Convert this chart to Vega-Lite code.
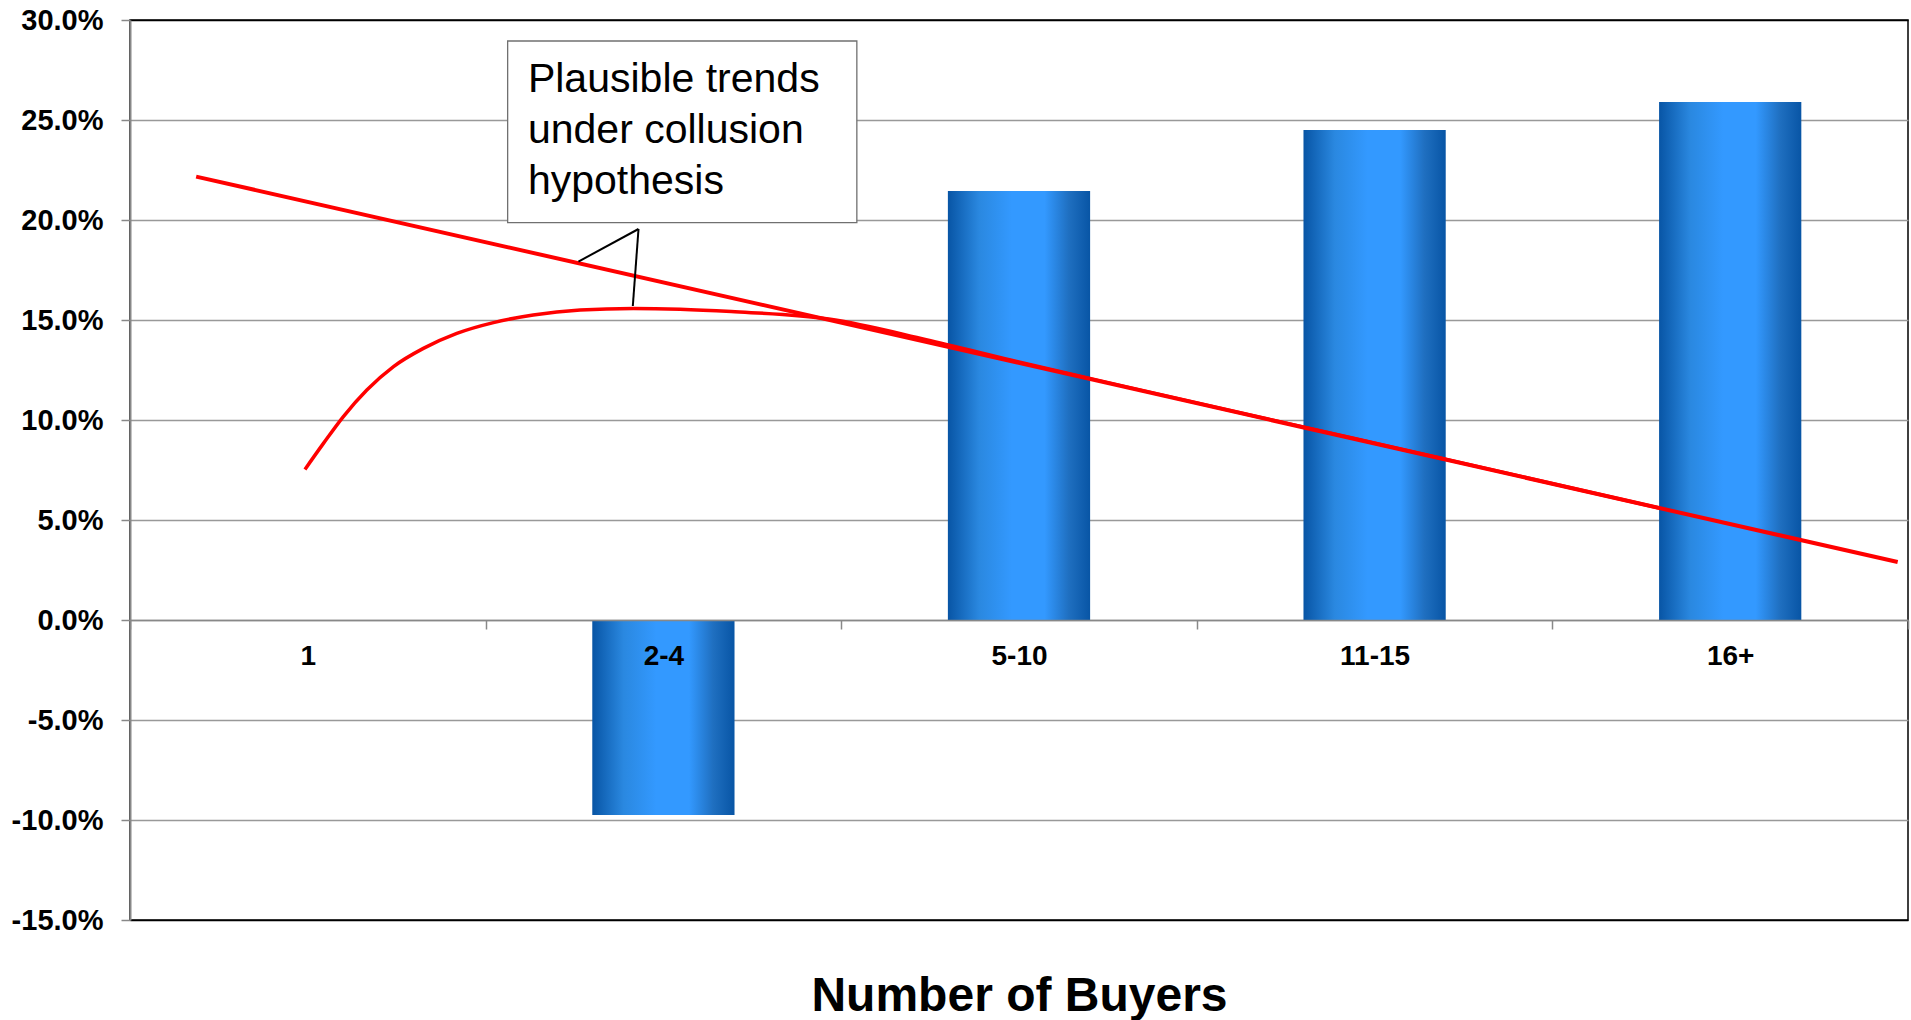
{
  "$schema": "https://vega.github.io/schema/vega-lite/v6.json",
  "width": 1778,
  "height": 900,
  "autosize": "none",
  "padding": {"left": 130, "top": 20, "right": 3, "bottom": 100},
  "background": "#ffffff",
  "config": {
    "view": {"stroke": "#000000", "strokeWidth": 1.5},
    "font": "Liberation Sans"
  },
  "datasets": {
    "bars": [
      {"buyers": "1", "value": 0},
      {"buyers": "2-4", "value": -9.75},
      {"buyers": "5-10", "value": 21.45},
      {"buyers": "11-15", "value": 24.5},
      {"buyers": "16+", "value": 25.9}
    ],
    "straight": [
      {"pos": 0.186, "pct": 22.17},
      {"pos": 4.971, "pct": 2.9}
    ],
    "curve": [
      {"pos": 0.492, "pct": 7.53},
      {"pos": 0.544, "pct": 8.83},
      {"pos": 0.600, "pct": 10.17},
      {"pos": 0.666, "pct": 11.5},
      {"pos": 0.741, "pct": 12.67},
      {"pos": 0.825, "pct": 13.58},
      {"pos": 0.919, "pct": 14.33},
      {"pos": 1.022, "pct": 14.87},
      {"pos": 1.134, "pct": 15.25},
      {"pos": 1.266, "pct": 15.5},
      {"pos": 1.415, "pct": 15.58},
      {"pos": 1.547, "pct": 15.54},
      {"pos": 1.691, "pct": 15.42},
      {"pos": 1.965, "pct": 15.05},
      {"pos": 2.239, "pct": 14.02},
      {"pos": 2.479, "pct": 12.99},
      {"pos": 2.8, "pct": 11.67},
      {"pos": 3.2, "pct": 10.05},
      {"pos": 3.7, "pct": 8.04},
      {"pos": 4.3, "pct": 5.6}
    ],
    "box": [
      {"x1": 1.062, "x2": 2.044, "y1": 28.95, "y2": 19.87}
    ],
    "note": [
      {"pos": 1.119, "pct": 28.0, "t": "Plausible trends\nunder collusion\nhypothesis"}
    ],
    "pointer": [
      {"x1": 1.430, "y1": 19.55, "x2": 1.261, "y2": 17.92},
      {"x1": 1.430, "y1": 19.55, "x2": 1.414, "y2": 15.7}
    ]
  },
  "layer": [
    {
      "data": {"name": "bars"},
      "mark": {
        "type": "bar",
        "width": {"band": 0.4},
        "fill": {
          "gradient": "linear",
          "x1": 0, "x2": 1, "y1": 0, "y2": 0,
          "stops": [
            {"offset": 0, "color": "#0855a5"},
            {"offset": 0.22, "color": "#2a88e0"},
            {"offset": 0.45, "color": "#3399ff"},
            {"offset": 0.68, "color": "#3399ff"},
            {"offset": 0.85, "color": "#1f6fc0"},
            {"offset": 1, "color": "#0855a5"}
          ]
        }
      },
      "encoding": {
        "x": {
          "field": "buyers",
          "type": "nominal",
          "sort": null,
          "scale": {"domain": ["1", "2-4", "5-10", "11-15", "16+"], "paddingInner": 0, "paddingOuter": 0},
          "axis": {
            "orient": "bottom",
            "offset": -300,
            "zindex": 1,
            "title": "Number of Buyers",
            "titleFont": "Liberation Sans",
            "titleFontSize": 48,
            "titleFontWeight": "bold",
            "titleColor": "#000000",
            "titleY": 390,
            "titleBaseline": "alphabetic",
            "labelFont": "Liberation Sans",
            "labelFontSize": 28,
            "labelFontWeight": "bold",
            "labelColor": "#000000",
            "labelPadding": 13,
            "labelAngle": 0,
            "tickBand": "extent",
            "tickSize": 9,
            "tickColor": "#888888",
            "tickWidth": 1.5,
            "domainColor": "#888888",
            "domainWidth": 1.5,
            "grid": false
          }
        },
        "y": {
          "field": "value",
          "type": "quantitative",
          "title": null,
          "scale": {"domain": [-15, 30], "nice": false, "zero": false},
          "axis": {
            "values": [-15, -10, -5, 0, 5, 10, 15, 20, 25, 30],
            "labelExpr": "replace(format(datum.value, '.1f'), '\u2212', '-') + '%'",
            "labelFont": "Liberation Sans",
            "labelFontSize": 29,
            "labelFontWeight": "bold",
            "labelColor": "#000000",
            "labelPadding": 18,
            "tickSize": 9,
            "tickColor": "#888888",
            "tickWidth": 1.5,
            "domainColor": "#888888",
            "domainWidth": 2,
            "grid": true,
            "gridColor": {"condition": {"test": "datum.value === 30 || datum.value === -15", "value": "#000000"}, "value": "#999999"},
            "gridWidth": 1.5
          }
        }
      }
    },
    {
      "layer": [
        {
          "data": {"name": "straight"},
          "mark": {"type": "line", "color": "#ff0000", "strokeWidth": 4},
          "encoding": {
            "x": {"field": "pos", "type": "quantitative", "scale": {"domain": [0, 5], "nice": false, "zero": false}, "axis": null},
            "y": {"field": "pct", "type": "quantitative", "title": null}
          }
        },
        {
          "data": {"name": "curve"},
          "mark": {"type": "line", "color": "#ff0000", "strokeWidth": 3.5, "interpolate": "monotone"},
          "encoding": {
            "x": {"field": "pos", "type": "quantitative", "scale": {"domain": [0, 5], "nice": false, "zero": false}, "axis": null},
            "y": {"field": "pct", "type": "quantitative", "title": null}
          }
        },
        {
          "data": {"name": "box"},
          "mark": {"type": "rect", "fill": "#ffffff", "stroke": "#707070", "strokeWidth": 1.3},
          "encoding": {
            "x": {"field": "x1", "type": "quantitative", "scale": {"domain": [0, 5], "nice": false, "zero": false}, "axis": null},
            "x2": {"field": "x2"},
            "y": {"field": "y1", "type": "quantitative", "title": null},
            "y2": {"field": "y2"}
          }
        },
        {
          "data": {"name": "note"},
          "mark": {"type": "text", "align": "left", "baseline": "top", "font": "Liberation Sans", "fontSize": 41, "lineBreak": "\n", "lineHeight": 51, "color": "#000000"},
          "encoding": {
            "x": {"field": "pos", "type": "quantitative", "scale": {"domain": [0, 5], "nice": false, "zero": false}, "axis": null},
            "y": {"field": "pct", "type": "quantitative", "title": null},
            "text": {"field": "t"}
          }
        },
        {
          "data": {"name": "pointer"},
          "mark": {"type": "rule", "color": "#000000", "strokeWidth": 2},
          "encoding": {
            "x": {"field": "x1", "type": "quantitative", "scale": {"domain": [0, 5], "nice": false, "zero": false}, "axis": null},
            "x2": {"field": "x2"},
            "y": {"field": "y1", "type": "quantitative", "title": null},
            "y2": {"field": "y2"}
          }
        }
      ]
    }
  ],
  "resolve": {"scale": {"x": "independent"}, "axis": {"x": "independent"}}
}
